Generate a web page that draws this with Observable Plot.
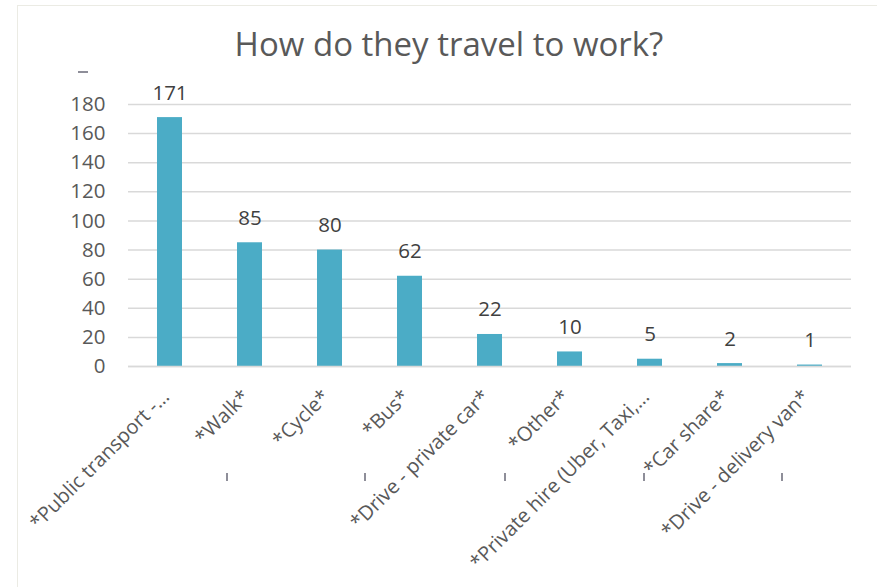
<!DOCTYPE html>
<html>
<head>
<meta charset="utf-8">
<script src="https://cdn.jsdelivr.net/npm/d3@7"></script>
<script src="https://cdn.jsdelivr.net/npm/@observablehq/plot@0.6"></script>
<style>
  html, body { margin: 0; padding: 0; background: #fff; }
  #wrap { position: relative; width: 877px; height: 587px; overflow: hidden; font-family: "Open Sans", sans-serif; }
  #frame { position: absolute; left: 17px; top: 5px; width: 870px; height: 600px; border-left: 1.5px solid #ebebe4; border-top: 1.5px solid #ebebe4; box-sizing: border-box; pointer-events: none; }
  #head { position: relative; height: 20px; }
  #title { position: absolute; left: 0; width: 898px; top: 24px; text-align: center; font-size: 33px; color: #595959; line-height: 1.2; z-index: 2; }
  .mk { position: absolute; background: #8e8e99; }
</style>
</head>
<body>
<div id="wrap">
  <div id="frame"></div>
  <div id="head"><div id="title">How do they travel to work?</div></div>
  <div id="chart"></div>
  <div class="mk" style="left:78px;top:71px;width:10px;height:2px"></div>
  <div class="mk" style="left:226px;top:473px;width:2px;height:8px"></div>
  <div class="mk" style="left:364px;top:473px;width:2px;height:8px"></div>
  <div class="mk" style="left:504px;top:473px;width:2px;height:8px"></div>
  <div class="mk" style="left:643px;top:473px;width:2px;height:8px"></div>
  <div class="mk" style="left:781px;top:473px;width:2px;height:8px"></div>
</div>
<script>
const categories = ["*Public transport -…", "*Walk*", "*Cycle*", "*Bus*", "*Drive - private car*", "*Other*", "*Private hire (Uber, Taxi,…", "*Car share*", "*Drive - delivery van*"];
const counts = [171, 85, 80, 62, 22, 10, 5, 2, 1];
const yTicks = [0, 20, 40, 60, 80, 100, 120, 140, 160, 180];

const data = categories.map((c, i) => ({ mode: c, count: counts[i] }));

const chart = Plot.plot({
  width: 877,
  height: 567,
  marginTop: 84,
  marginBottom: 221,
  marginLeft: 129,
  marginRight: 28,
  style: { fontFamily: "Open Sans, sans-serif", fontSize: "20.5px", color: "#595959", background: "transparent" },
  x: { domain: categories, paddingInner: 0.6875, paddingOuter: 0.34375, label: null },
  y: { domain: [0, 180], ticks: yTicks, label: null },
  marks: [
    Plot.gridY(yTicks, { stroke: "#d9d9d9", strokeOpacity: 1, strokeWidth: 1.5, insetLeft: -1, insetRight: -2 }),
    Plot.barY(data, { x: "mode", y: "count", fill: "#4bacc6" }),
    Plot.ruleY([0], { stroke: "#d9d9d9", strokeWidth: 1.5, insetLeft: -1, insetRight: -2 }),
    Plot.text(data, { x: "mode", y: "count", text: d => String(d.count), lineAnchor: "bottom", dy: -18, fill: "#404040", fontSize: 20.5 }),
    Plot.axisY(yTicks, { tickSize: 0, tickPadding: 24, fill: "#595959", fontSize: 20.5, label: null }),
    Plot.axisX({ tickSize: 0, tickPadding: 27, tickRotate: -45, fill: "#595959", fontSize: 20, label: null, dx: -4 })
  ]
});
document.getElementById("chart").appendChild(chart);
</script>
</body>
</html>
